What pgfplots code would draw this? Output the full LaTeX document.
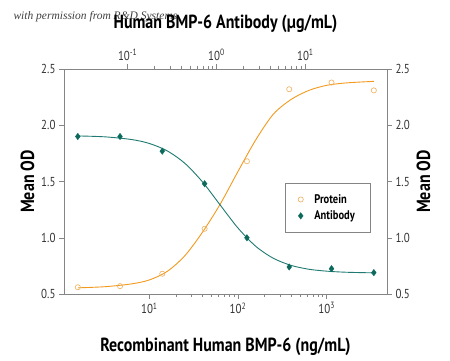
\documentclass[border=0pt]{standalone}
\usepackage{pgfplots}
\pgfplotsset{compat=1.18}
\usepackage{fontspec}
\setmainfont{PT Sans}[FakeStretch=0.84]
\newfontfamily\wmfont{Liberation Serif}
\definecolor{prot}{HTML}{F29A1E}
\definecolor{protm}{HTML}{F0AE5C}
\definecolor{anti}{HTML}{1E7A72}
\definecolor{antim}{HTML}{0B6A5C}
\definecolor{frame}{HTML}{858585}
\definecolor{ticktxt}{HTML}{333333}

\pgfplotsset{
  common/.style={
    at={(64pt,66pt)}, anchor=south west,
    scale only axis, width=323pt, height=225pt,
    ymin=0.5, ymax=2.5,
    axis line style={draw=frame, line width=0.6pt},
    tick align=outside,
    major tick length=5pt, minor tick length=3pt,
    every tick/.style={draw=frame, line width=0.5pt},
    tick label style={font=\fontsize{13}{15}\selectfont, text=ticktxt},
    ytick={0.5,1,1.5,2,2.5},
    yticklabels={0.5,1.0,1.5,2.0,2.5},
    label style={font=\bfseries\fontsize{19}{22}\selectfont},
  }
}

\begin{document}
\begin{tikzpicture}
\useasboundingbox (0,0) rectangle (450pt,360pt);
\node[anchor=west, font=\wmfont\itshape\fontsize{11.5}{13}\selectfont, text=black!75] at (10pt,343pt) {with permission from R\&D Systems};

\begin{axis}[xmode=log, common,
  xmin=1.09, xmax=4790,
  xtick pos=left, ytick pos=left,
  xtick={10,100,1000},
  xticklabels={10\textsuperscript{1},10\textsuperscript{2},10\textsuperscript{3}},
  xlabel={Recombinant Human BMP-6 (ng/mL)},
  xlabel style={yshift=-18pt},
  ylabel={Mean OD},
  legend style={at={(0.684,0.493)}, anchor=north west, draw=frame,
    font=\bfseries\fontsize{12.5}{14}\selectfont, inner xsep=13pt, inner ysep=9pt,
    row sep=2pt, legend cell align=left,
    /tikz/every odd column/.append style={column sep=9pt}},
]
\addplot[prot, line width=0.9pt, smooth, forget plot] coordinates {
(1.56,0.555) (3.162,0.565) (6.31,0.59) (10,0.625) (15.85,0.70) (25.12,0.84)
(39.81,1.05) (63.1,1.30) (100,1.59) (158.5,1.87) (251.2,2.10) (398.1,2.23)
(631,2.31) (1000,2.355) (1585,2.375) (2512,2.385) (3403,2.39)};
\addplot[anti, line width=0.9pt, smooth, forget plot] coordinates {
(1.56,1.905) (3.162,1.897) (6.31,1.873) (10,1.838) (15.85,1.773) (25.12,1.662)
(39.81,1.496) (63.1,1.290) (100,1.086) (158.5,0.924) (251.2,0.817) (398.1,0.754)
(631,0.720) (1000,0.703) (1585,0.694) (2512,0.690) (3403,0.688)};
\addplot[only marks, mark=o, mark size=2.6pt, mark options={draw=protm, line width=0.6pt}] coordinates {
(1.56,0.56) (4.67,0.57) (14.0,0.68) (42.0,1.08) (126,1.68) (378,2.32) (1134,2.38) (3403,2.31)};
\addlegendentry{Protein}
\addplot[only marks, mark=diamond*, mark size=3.2pt, mark options={draw=antim, fill=antim}] coordinates {
(1.56,1.90) (4.67,1.90) (14.0,1.77) (42.0,1.48) (126,1.00) (378,0.74) (1134,0.725) (3403,0.69)};
\addlegendentry{Antibody}
\end{axis}

\begin{axis}[xmode=log, common,
  xmin=0.0192, xmax=83,
  xtick pos=right, ytick pos=right,
  xticklabel pos=right, yticklabel pos=right,
  xtick={0.1,1,10},
  xticklabels={10\textsuperscript{-1},10\textsuperscript{0},10\textsuperscript{1}},
  xlabel={Human BMP-6 Antibody (\textmu g/mL)},
  xlabel style={yshift=10pt},
  ylabel={Mean OD},
]
\end{axis}
\end{tikzpicture}
\end{document}
